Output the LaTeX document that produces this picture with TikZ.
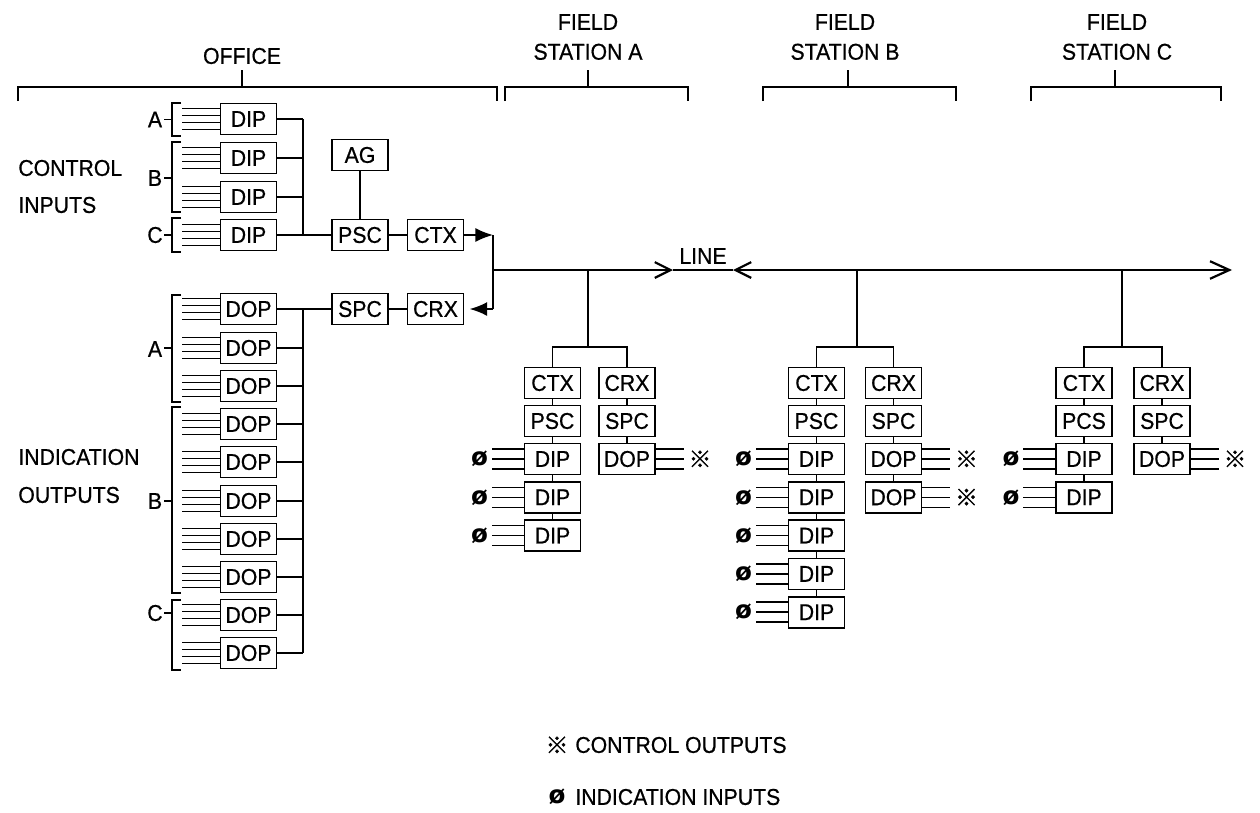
\documentclass[tikz,border=0pt]{standalone}
\usepackage{fontspec}
\setmainfont{Liberation Sans}[FakeStretch=0.93,FakeBold=0.7]
\newfontfamily\cjkfont{Noto Sans CJK SC}[FakeBold=1.5]
\newfontfamily\symfont{DejaVu Sans}
\usetikzlibrary{arrows.meta}
\begin{document}
\begin{tikzpicture}[x=0.02cm,y=-0.02cm,
  wire/.style={line width=1pt},
  thin wire/.style={line width=0.9pt},
  bus/.style={line width=1.25pt},
  unit/.style={draw, line width=1pt, minimum width=1.12cm, minimum height=0.62cm, inner sep=0pt, font=\fontsize{13}{13}\selectfont},
  lbl/.style={font=\fontsize{13}{17}\selectfont, inner sep=0pt},
  osym/.style={font=\cjkfont\fontsize{13}{13}\selectfont, inner sep=0pt},
  isym/.style={font=\symfont\bfseries\fontsize{14}{14}\selectfont, inner sep=0pt},
]
\useasboundingbox (0,0) rectangle (1260,812);

% ---------- headers ----------
\node[lbl] (office) at (242,56) {OFFICE};
\node[lbl, align=center] (hA) at (588,37) {FIELD\\STATION A};
\node[lbl, align=center] (hB) at (845,37) {FIELD\\STATION B};
\node[lbl, align=center] (hC) at (1117,37) {FIELD\\STATION C};
\draw[wire] (18,101) -- (18,87) -- (497,87) -- (497,101) (242,87) -- (242,70);
\draw[wire] (505,101) -- (505,87) -- (688,87) -- (688,101) (588,87) -- (588,70);
\draw[wire] (763,101) -- (763,87) -- (956,87) -- (956,101) (848,87) -- (848,70);
\draw[wire] (1031,101) -- (1031,87) -- (1221,87) -- (1221,101) (1115,87) -- (1115,70);

% ---------- office side labels ----------
\node[lbl, anchor=west] (ctrl) at (18,168) {CONTROL};
\node[lbl, anchor=west] (inp) at (18,205) {INPUTS};
\node[lbl, anchor=west] (indic) at (18,457) {INDICATION};
\node[lbl, anchor=west] (outp) at (18,495) {OUTPUTS};

% group brackets (control inputs)
\draw[wire] (181,103) -- (172,103) -- (172,136) -- (181,136) (172,119.5) -- (164,119.5);
\node[lbl] (cgA) at (155,119.5) {A};
\draw[wire] (181,142) -- (172,142) -- (172,212) -- (181,212) (172,178) -- (164,178);
\node[lbl] (cgB) at (155,178) {B};
\draw[wire] (181,218) -- (172,218) -- (172,252) -- (181,252) (172,235) -- (164,235);
\node[lbl] (cgC) at (155,235) {C};
% group brackets (indication outputs)
\draw[wire] (181,295) -- (172,295) -- (172,402) -- (181,402) (172,348) -- (164,348);
\node[lbl] (igA) at (155,349) {A};
\draw[wire] (181,407) -- (172,407) -- (172,593) -- (181,593) (172,501) -- (164,501);
\node[lbl] (igB) at (155,501) {B};
\draw[wire] (181,600) -- (172,600) -- (172,670) -- (181,670) (172,613) -- (164,613);
\node[lbl] (igC) at (155,613) {C};

% ---------- office DIP ----------
\foreach \y [count=\i] in {119,158,197,235} {
  \node[unit] (odip\i) at (248.5,\y) {DIP};
  \foreach \d in {-10.5,-3.5,3.5,10.5}
    \draw[thin wire] (odip\i.west) ++(0,\d) -- ++(-38,0);
  \draw[wire] (odip\i.east) -- (303,\y);
}
\draw[wire] (303,119) -- (303,235);

% ---------- office DOP ----------
\foreach \y [count=\i] in {309,348,386,424,462,501,539,577,615,653} {
  \node[unit] (odop\i) at (248.5,\y) {DOP};
  \foreach \d in {-10.5,-3.5,3.5,10.5}
    \draw[thin wire] (odop\i.west) ++(0,\d) -- ++(-38,0);
  \draw[wire] (odop\i.east) -- (303,\y);
}
\draw[wire] (303,309) -- (303,653);

% ---------- office transmit/receive ----------
\node[unit] (ag) at (360,155) {AG};
\node[unit] (psc) at (360,235) {PSC};
\node[unit] (ctx) at (435.5,235) {CTX};
\node[unit] (spc) at (360,309) {SPC};
\node[unit] (crx) at (435.5,309) {CRX};
\draw[wire] (ag) -- (psc);
\draw[wire] (odip4.east) -- (psc.west);
\draw[wire] (psc) -- (ctx);
\draw[wire] (odop1.east) -- (spc.west);
\draw[wire] (spc) -- (crx);

\coordinate (j1) at (493,235);
\coordinate (j2) at (493,309);
\coordinate (jm) at (493,270);
\draw[wire, -{Latex[length=10pt,width=8pt]}] (ctx.east) -- (j1);
\draw[wire] (j1) -- (j2);
\draw[wire, -{Latex[length=10pt,width=8pt]}] (j2) -- ([xshift=3pt]crx.east);

% ---------- line ----------
\coordinate (ma) at (673,270);
\coordinate (mb) at (733,270);
\coordinate (lend) at (1232,270);
\draw[bus, -{Straight Barb[length=9pt,width=9pt]}] (jm) -- (ma);
\draw[bus] (ma) -- (mb);
\draw[bus, {Straight Barb[length=9pt,width=9pt]}-{Straight Barb[length=11pt,width=10pt]}] (mb) -- (lend);
\node[lbl] (linelbl) at (703,256) {LINE};

% ---------- field stations ----------
\foreach \s/\cx/\rx/\dx/\nd/\no/\pl in {A/552.5/627/588/3/1/PSC, B/816.5/893.5/857/5/2/PSC, C/1084/1162/1122/2/1/PCS} {
  \coordinate (d\s) at (\dx,270);
  \coordinate (b\s) at (\dx,347);
  \node[unit] (ctx\s) at (\cx,383) {CTX};
  \node[unit] (crx\s) at (\rx,383) {CRX};
  \node[unit] (psc\s) at (\cx,421) {\pl};
  \node[unit] (spc\s) at (\rx,421) {SPC};
  \draw[wire] (d\s) -- (b\s);
  \draw[wire] (ctx\s.north) |- (b\s) -| (crx\s.north);
  \draw[wire] (ctx\s) -- (psc\s);
  \draw[wire] (crx\s) -- (spc\s);
  \foreach \k in {1,...,\nd} {
    \pgfmathsetmacro\yy{459+38.3*(\k-1)}
    \pgfmathtruncatemacro\pk{\k-1}
    \node[unit] (dip\s\k) at (\cx,\yy) {DIP};
    \foreach \d in {-10,0,10}
      \draw[thin wire] (dip\s\k.west) ++(0,\d) -- ++(-32,0);
    \node[isym] (is\s\k) at (\cx-73,\yy) {ø};
    \ifnum\k=1 \draw[wire] (psc\s) -- (dip\s\k); \else \draw[wire] (dip\s\pk) -- (dip\s\k); \fi
  }
  \foreach \k in {1,...,\no} {
    \pgfmathsetmacro\yy{459+38.3*(\k-1)}
    \pgfmathtruncatemacro\pk{\k-1}
    \node[unit] (dop\s\k) at (\rx,\yy) {DOP};
    \foreach \d in {-10,0,10}
      \draw[thin wire] (dop\s\k.east) ++(0,\d) -- ++(28,0);
    \node[osym] (os\s\k) at (\rx+73,\yy) {※};
    \ifnum\k=1 \draw[wire] (spc\s) -- (dop\s\k); \else \draw[wire] (dop\s\pk) -- (dop\s\k); \fi
  }
}

% ---------- legend ----------
\node[osym] (ls1) at (557,745) {※};
\node[lbl, anchor=west] (lt1) at (575,745) {CONTROL OUTPUTS};
\node[isym] (ls2) at (557,797) {ø};
\node[lbl, anchor=west] (lt2) at (575,797) {INDICATION INPUTS};
\end{tikzpicture}
\end{document}
